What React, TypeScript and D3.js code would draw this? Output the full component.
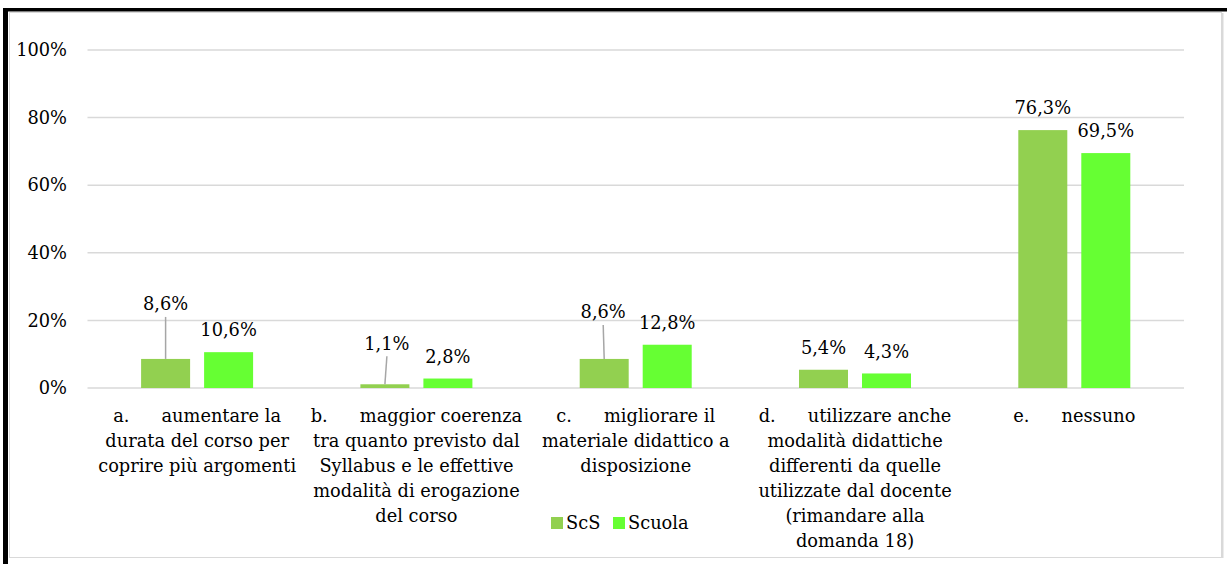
import * as d3 from "d3";

// categories (label lines as wrapped in the original)
const categories = ["a", "b", "c", "d", "e"];
const categoryLines: [string, string[]][] = [
  ["a.", ["aumentare la", "durata del corso per", "coprire più argomenti"]],
  ["b.", ["maggior coerenza", "tra quanto previsto dal", "Syllabus e le effettive", "modalità di erogazione", "del corso"]],
  ["c.", ["migliorare il", "materiale didattico a", "disposizione"]],
  ["d.", ["utilizzare anche", "modalità didattiche", "differenti da quelle", "utilizzate dal docente", "(rimandare alla", "domanda 18)"]],
  ["e.", ["nessuno"]],
];
const seriesNames = ["ScS", "Scuola"];
const scsValues = [0.086, 0.011, 0.086, 0.054, 0.763];
const scuolaValues = [0.106, 0.028, 0.128, 0.043, 0.695];
const yTicks = [0, 0.2, 0.4, 0.6, 0.8, 1];

const W = 1227;
const H = 564;
const colors = ["#92D050", "#66FF33"];
const FONT = "'DejaVu Serif', serif";
const FS = 17.8;

const it = d3.formatLocale({ decimal: ",", thousands: ".", grouping: [3], currency: ["€", ""] });
const pct1 = it.format(".1%");
const pct0 = it.format(".0%");

// manually moved labels (with leader lines), like the Excel original
const moved: Record<string, { dx: number; dy: number }> = {
  "ScS-a": { dx: 0, dy: -55 },
  "ScS-b": { dx: 2, dy: -41 },
  "ScS-c": { dx: -1, dy: -47 },
};

export default function App() {
  const x = d3.scaleBand<string>().domain(categories).range([87.5, 1184]);
  const inner = d3
    .scaleBand<string>()
    .domain(seriesNames)
    .range([53.6, 165.6])
    .paddingInner(14 / 63);
  const y = d3.scaleLinear().domain([0, 1]).range([388, 50]);

  const series = [scsValues, scuolaValues];

  return (
    <svg width={W} height={H} style={{ position: "absolute", left: 0, top: 0, background: "#fff" }} fontFamily={FONT}>
      <rect x={0} y={0} width={W} height={H} fill="#fff" />
      {/* outer frame */}
      <rect x={3} y={8} width={5} height={H - 8} fill="#000" />
      <rect x={3} y={8} width={W - 3} height={3.5} fill="#000" />
      <rect x={9.5} y={12.5} width={1212} height={545} fill="#fff" stroke="#D9D9D9" strokeWidth={1} />
      <line x1={1222.5} x2={1222.5} y1={13} y2={558} stroke="#D9D9D9" strokeWidth={2} />

      {/* gridlines + y axis */}
      {yTicks.map((t) => (
        <g key={t}>
          <line x1={87.5} x2={1184} y1={y(t)} y2={y(t)} stroke="#D9D9D9" strokeWidth={1.5} />
          <text x={67} y={y(t)} dy="0.35em" textAnchor="end" fontSize={FS} fill="#000">
            {pct0(t)}
          </text>
        </g>
      ))}

      {/* bars */}
      {series.map((vals, si) =>
        vals.map((v, ci) => {
          const cat = categories[ci];
          const bx = x(cat)! + inner(seriesNames[si])!;
          const bw = inner.bandwidth();
          const top = y(v);
          const key = `${seriesNames[si]}-${cat}`;
          const m = moved[key];
          const lx = bx + bw / 2 + (m ? m.dx : 0);
          const ly = top + (m ? m.dy : -22);
          return (
            <g key={key}>
              <rect x={bx} y={top} width={bw} height={y(0) - top} fill={colors[si]} />
              {m && (
                <line x1={bx + bw / 2} y1={top} x2={lx} y2={ly + 13} stroke="#A6A6A6" strokeWidth={1.5} />
              )}
              <text x={lx} y={ly} dy="0.35em" textAnchor="middle" fontSize={FS} fill="#000">
                {pct1(v)}
              </text>
            </g>
          );
        })
      )}

      {/* category labels */}
      {categoryLines.map(([letter, lines], ci) => {
        const cx = x(categories[ci])! + x.bandwidth() / 2;
        return (
          <g key={letter}>
            {lines.map((ln, li) => (
              <text key={li} x={cx} y={416 + li * 25} dy="0.35em" textAnchor="middle" fontSize={FS} fill="#000">
                {li === 0 ? (
                  <>
                    <tspan>{letter}</tspan>
                    <tspan dx={32}>{ln}</tspan>
                  </>
                ) : (
                  ln
                )}
              </text>
            ))}
          </g>
        );
      })}

      {/* legend */}
      {seriesNames.map((s, i) => {
        const lx = 551 + i * 62;
        return (
          <g key={s}>
            <rect x={lx} y={517} width={12} height={12} fill={colors[i]} />
            <text x={lx + 15} y={523} dy="0.35em" fontSize={FS} fill="#000">
              {s}
            </text>
          </g>
        );
      })}
    </svg>
  );
}
